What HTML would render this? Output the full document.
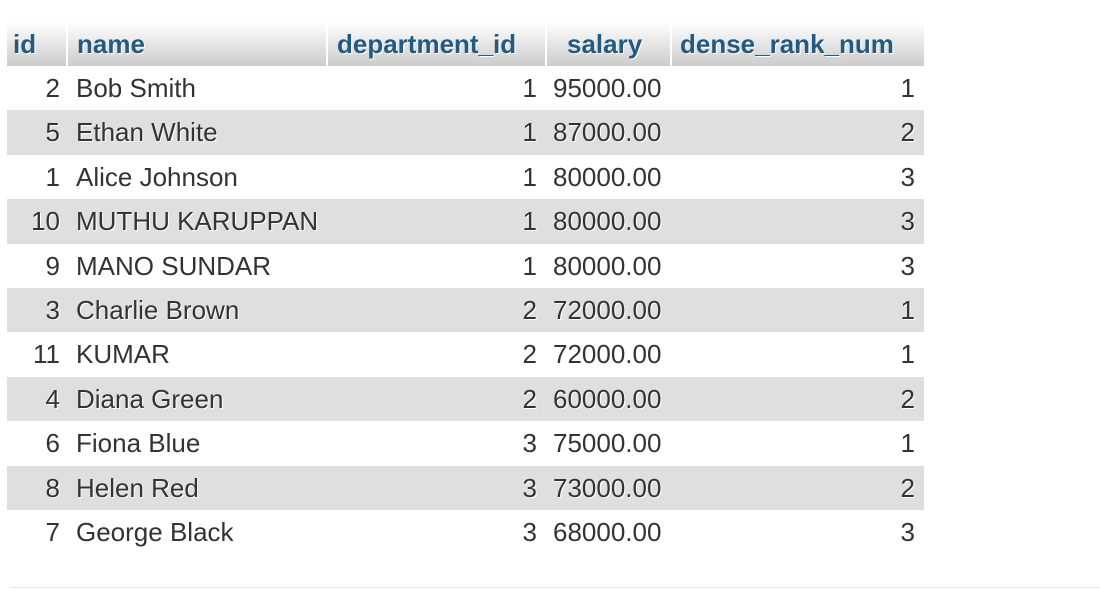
<!DOCTYPE html>
<html><head><meta charset="utf-8"><style>
body{margin:0;width:1100px;height:590px;background:#fff;position:relative;overflow:hidden;font-family:"Liberation Sans",Arial,sans-serif;}
.h{position:absolute;top:22px;height:44px;line-height:44px;background:linear-gradient(#fff,#ccc);color:#235a81;font-weight:bold;font-size:26px;text-shadow:1px 1px 0 #fff;box-sizing:border-box;white-space:nowrap}
.r{position:absolute;left:7px;width:917px;height:44.4px;}
.r.g{background:#dfdfdf}
.c{position:absolute;top:0px;height:44.4px;line-height:44.4px;font-size:26px;color:#333;text-shadow:1px 1px 0 #fff;white-space:nowrap}
.line{position:absolute;left:10px;top:587px;width:1090px;height:1px;background:#e3e3e3}
</style></head><body>
<div>
<div class="h" style="left:7px;width:59px;padding-left:6px">id</div>
<div class="h" style="left:68px;width:258px;padding-left:9px">name</div>
<div class="h" style="left:328px;width:217px;padding-left:9px">department_id</div>
<div class="h" style="left:547px;width:123px;padding-left:20px">salary</div>
<div class="h" style="left:672px;width:252px;padding-left:8px">dense_rank_num</div>
<div id="rows"></div>
</div>
<div class="line"></div>
<script>
const ids=[2,5,1,10,9,3,11,4,6,8,7];
const names=["Bob Smith","Ethan White","Alice Johnson","MUTHU KARUPPAN","MANO SUNDAR","Charlie Brown","KUMAR","Diana Green","Fiona Blue","Helen Red","George Black"];
const depts=[1,1,1,1,1,2,2,2,3,3,3];
const salaries=["95000.00","87000.00","80000.00","80000.00","80000.00","72000.00","72000.00","60000.00","75000.00","73000.00","68000.00"];
const ranks=[1,2,3,3,3,1,1,2,1,2,3];
const body=document.getElementById('rows');
function cell(row,text,style,name){
  const d=document.createElement('div');
  d.className='c';
  
  
  d.textContent=text;
  d.setAttribute('style',style);
  row.appendChild(d);
}
for(let i=0;i<ids.length;i++){
  const r=document.createElement('div');
  r.className='r'+(i%2?' g':'');
  
  
  r.style.top=(66+44.4*i)+'px';
  cell(r,ids[i],'right:864px','cell-id');
  cell(r,names[i],'left:69px','cell-name');
  cell(r,depts[i],'right:387px','cell-department-id');
  cell(r,salaries[i],'left:546px','cell-salary');
  cell(r,ranks[i],'right:9px','cell-dense-rank-num');
  body.appendChild(r);
}
</script>
</body></html>
